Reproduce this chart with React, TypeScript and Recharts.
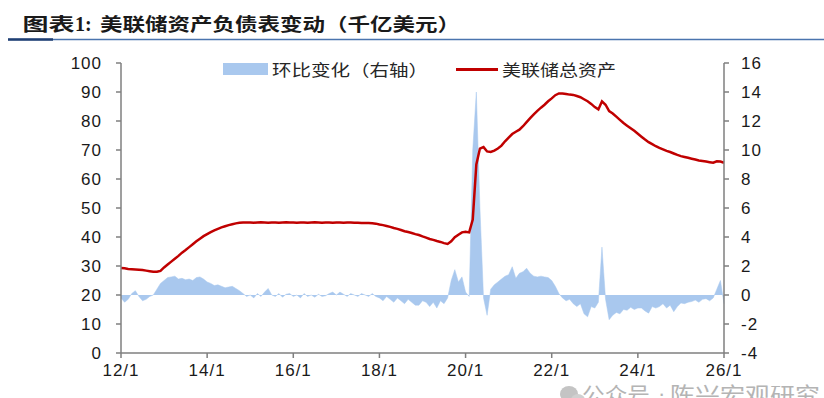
import React from 'react';
import { ComposedChart, Area, Line, XAxis, YAxis } from 'recharts';

// Monthly categories 2012-01 .. 2026-01
const categories: string[] = [];
for (let y = 2012; y <= 2026; y++) {
  for (let m = 1; m <= 12; m++) {
    if (y === 2026 && m > 1) break;
    categories.push(`${y}-${String(m).padStart(2, '0')}`);
  }
}

const xTicks = ['2012-01', '2014-01', '2016-01', '2018-01', '2020-01', '2022-01', '2024-01', '2026-01'];
const xTickLabels = ['12/1', '14/1', '16/1', '18/1', '20/1', '22/1', '24/1', '26/1'];
const leftTicks = [0, 10, 20, 30, 40, 50, 60, 70, 80, 90, 100];
const rightTicks = [-4, -2, 0, 2, 4, 6, 8, 10, 12, 14, 16];

// 美联储总资产 (千亿美元), left axis
const totalAssets = [
  29.3, 29.2, 29.0, 28.9, 28.8, 28.7, 28.6, 28.4, 28.2, 28.0, 28.0, 28.3,
  29.5, 30.5, 31.5, 32.5, 33.5, 34.6, 35.5, 36.5, 37.5, 38.5, 39.4, 40.3,
  41.0, 41.7, 42.3, 42.8, 43.3, 43.7, 44.1, 44.4, 44.7, 44.9, 45.0, 45.0,
  45.0, 44.9, 45.0, 45.1, 45.0, 44.9, 45.0, 45.0, 44.9, 45.0, 45.1, 45.0,
  45.0, 44.9, 45.0, 45.0, 44.9, 45.0, 45.1, 45.0, 44.9, 45.0, 45.0, 44.9,
  45.0, 45.0, 44.9, 45.0, 45.0, 44.9, 44.9, 44.8, 44.8, 44.8, 44.7, 44.6,
  44.3, 44.1, 43.8, 43.5, 43.1, 42.8, 42.4, 42.0, 41.7, 41.4, 41.0, 40.7,
  40.2, 39.8, 39.3, 39.0, 38.6, 38.3, 37.9, 37.6, 38.5, 39.9, 40.8, 41.6,
  41.8, 41.6, 46.0, 65.0, 70.5, 71.0, 69.5, 69.3, 69.8, 70.5, 71.5, 73.0,
  74.3, 75.5, 76.3, 77.0, 78.2, 79.6, 81.0, 82.3, 83.5, 84.6, 85.6, 86.8,
  87.8, 88.9, 89.5, 89.5, 89.3, 89.1, 89.0, 88.6, 88.2, 87.5, 86.8, 85.9,
  84.8, 84.0, 86.8, 85.6, 83.4, 82.6, 81.5, 80.4, 79.3, 78.4, 77.5, 76.6,
  75.6, 74.6, 73.6, 72.7, 72.0, 71.3, 70.7, 70.2, 69.7, 69.3, 68.8, 68.3,
  67.9, 67.6, 67.3, 67.0, 66.7, 66.4, 66.2, 66.0, 65.8, 65.6, 66.1, 66.0,
  65.6,
];

// 环比变化 (右轴)
const momChange = [
  -0.2, -0.5, -0.3, 0.1, 0.3, -0.1, -0.4, -0.3, -0.1, 0.0, 0.4, 0.8,
  1.0, 1.2, 1.25, 1.3, 1.1, 1.15, 1.05, 1.1, 1.0, 1.2, 1.25, 1.1,
  0.9, 0.8, 0.65, 0.7, 0.6, 0.5, 0.55, 0.6, 0.45, 0.3, 0.1, -0.1,
  0.0, -0.2, 0.1, -0.1, 0.2, 0.45, 0.0, -0.1, 0.1, -0.15, 0.05, 0.1,
  -0.1, 0.0, -0.2, 0.1, -0.1, 0.0, -0.15, 0.05, -0.1, -0.05, 0.1, 0.2,
  0.0, 0.2, 0.05, -0.1, 0.1, 0.0, -0.1, 0.1, 0.0, -0.1, 0.1, -0.1,
  -0.2, -0.4, -0.1, -0.3, -0.5, -0.2, -0.4, -0.6, -0.3, -0.5, -0.7, -0.7,
  -0.4, -0.5, -0.8, -0.5, -0.9, -0.4, -0.6, -0.2, 1.0, 1.75, 0.9, 1.25,
  0.2, -0.1, 10.0, 14.0, 6.0, -0.2, -1.4, 0.4, 0.7, 0.9, 1.1, 1.3,
  1.4, 1.95, 1.15, 1.5, 1.6, 1.85, 1.5, 1.3, 1.25, 1.3, 1.25, 1.2,
  1.0, 0.6, 0.1, -0.2, -0.4, -0.3, -0.6, -0.8, -0.6, -1.3, -1.5, -0.8,
  -0.9, -0.5, 3.3, -0.3, -1.7, -1.4, -1.2, -1.3, -1.0, -1.05, -0.85, -1.0,
  -0.9, -0.9, -1.1, -1.25, -0.8, -0.9, -0.8, -0.6, -0.9, -0.7, -1.15, -0.8,
  -0.55, -0.6, -0.5, -0.45, -0.35, -0.5, -0.3, -0.25, -0.4, -0.2, 0.4, 1.0,
  -0.6,
];

const title1 = '图表';
const title2 = '1:';
const title3 = '美联储资产负债表变动（千亿美元）';
const legendArea = '环比变化（右轴）';
const legendLine = '美联储总资产';
const watermarkA = '公众号';
const watermarkDot = '·';
const watermarkB = '陈兴宏观研究';

const data = categories.map((date, i) => ({
  date,
  total: totalAssets[i],
  change: momChange[i],
}));

const AXIS = '#7f7f7f';
const TXT = '#1a1a1a';
const BLUE = '#A9C8EE';
const RED = '#C00000';
const CJK = '"Noto Sans CJK SC", sans-serif';
const tickStyle = { fill: TXT, fontSize: 17, letterSpacing: 1, fontFamily: '"Liberation Sans", Arial, sans-serif' };

export default function App() {
  return (
    <div style={{ position: 'absolute', left: 0, top: 0, width: 824, height: 398, background: '#fff', overflow: 'hidden' }}>
      <ComposedChart width={824} height={398} data={data} margin={{ top: 63, right: 40, bottom: 15, left: 61 }}>
        <XAxis
          dataKey="date"
          ticks={xTicks}
          interval={0}
          tickFormatter={(v: string) => xTickLabels[xTicks.indexOf(v)]}
          axisLine={{ stroke: AXIS, strokeWidth: 1.5 }}
          tickLine={{ stroke: AXIS, strokeWidth: 1.5 }}
          tickSize={5}
          tickMargin={6}
          tick={tickStyle}
          height={30}
        />
        <YAxis
          yAxisId="left"
          domain={[0, 100]}
          ticks={leftTicks}
          interval={0}
          width={60}
          axisLine={{ stroke: AXIS, strokeWidth: 1.5 }}
          tickLine={{ stroke: AXIS, strokeWidth: 1.5 }}
          tickSize={5}
          tickMargin={14}
          tick={tickStyle}
        />
        <YAxis
          yAxisId="right"
          orientation="right"
          domain={[-4, 16]}
          ticks={rightTicks}
          interval={0}
          width={60}
          axisLine={{ stroke: AXIS, strokeWidth: 1.5 }}
          tickLine={{ stroke: AXIS, strokeWidth: 1.5 }}
          tickSize={5}
          tickMargin={12}
          tick={tickStyle}
        />
        <Area
          yAxisId="right"
          dataKey="change"
          type="linear"
          baseValue={0}
          fill={BLUE}
          fillOpacity={1}
          stroke={BLUE}
          strokeWidth={0.5}
          isAnimationActive={false}
        />
        <Line
          yAxisId="left"
          dataKey="total"
          type="linear"
          stroke={RED}
          strokeWidth={2.5}
          dot={false}
          isAnimationActive={false}
        />
      </ComposedChart>
      <svg width={824} height={398} style={{ position: 'absolute', left: 0, top: 0, pointerEvents: 'none' }}>
        {/* title */}
        <text x={22.5} y={31} fontFamily={CJK} fontWeight="bold" fontSize={18} fill={TXT} textLength={52} lengthAdjust="spacingAndGlyphs">{title1}</text>
        <text x={75} y={31} fontFamily='"Liberation Serif", serif' fontWeight="bold" fontSize={20} fill={TXT}>{title2}</text>
        <text x={100} y={31} fontFamily={CJK} fontWeight="bold" fontSize={18} fill={TXT} textLength={360} lengthAdjust="spacingAndGlyphs">{title3}</text>
        <line x1={8} y1={39.5} x2={824} y2={39.5} stroke="#4A74AE" strokeWidth={1.5} />
        <line x1={8} y1={39.5} x2={53} y2={39.5} stroke="#1F3F73" strokeWidth={2.5} />
        {/* legend */}
        <rect x={223} y={63} width={45} height={12} fill={BLUE} />
        <text x={272} y={76} fontFamily={CJK} fontSize={16} fill="#262626" textLength={156} lengthAdjust="spacingAndGlyphs">{legendArea}</text>
        <line x1={456} y1={69.5} x2={498} y2={69.5} stroke={RED} strokeWidth={3} />
        <text x={502} y={76} fontFamily={CJK} fontSize={16} fill="#262626" textLength={114} lengthAdjust="spacingAndGlyphs">{legendLine}</text>
        {/* watermark */}
        <ellipse cx={569} cy={394} rx={9} ry={8} fill="#c4c4c4" />
        <ellipse cx={578} cy={400} rx={7} ry={6} fill="#d0d0d0" />
        <text x={582} y={403} fontFamily={CJK} fontSize={22} fill="#b4b4b4" textLength={68} lengthAdjust="spacingAndGlyphs">{watermarkA}</text>
        <text x={658} y={401} fontFamily='"Liberation Sans", Arial, sans-serif' fontSize={22} fill="#b4b4b4">{watermarkDot}</text>
        <text x={670} y={403} fontFamily={CJK} fontSize={22} fill="#b4b4b4" textLength={150} lengthAdjust="spacingAndGlyphs">{watermarkB}</text>
      </svg>
    </div>
  );
}
